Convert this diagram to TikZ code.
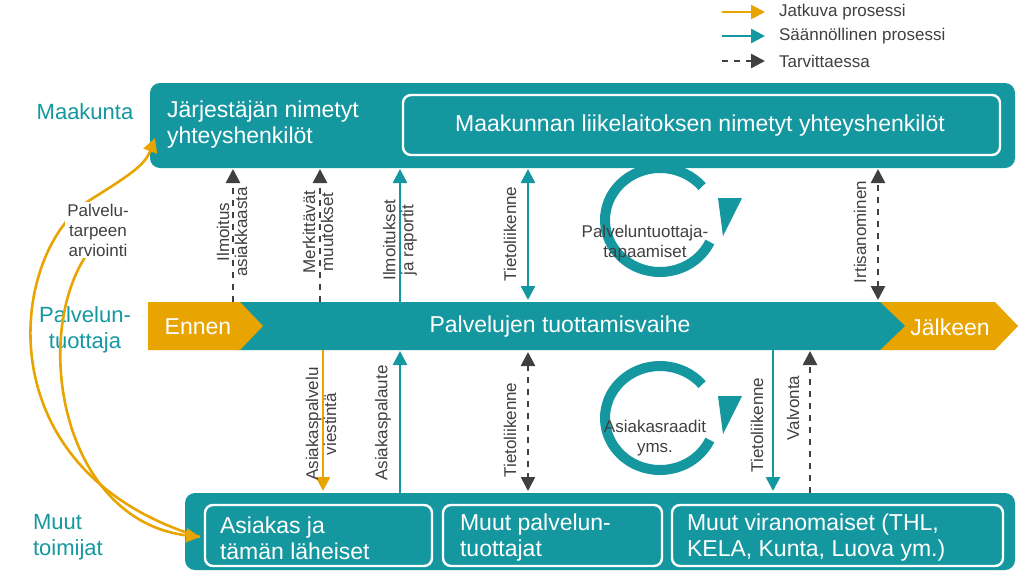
\documentclass[tikz,border=0pt]{standalone}
\usepackage{fontspec}
\setmainfont{Liberation Sans}
\usetikzlibrary{arrows.meta}
\definecolor{teal1}{HTML}{1597A0}
\definecolor{orng}{HTML}{E8A400}
\definecolor{dgray}{HTML}{404040}
\begin{document}
\begin{tikzpicture}[x=0.5pt,y=-0.5pt,
  tb/.style={fill=teal1,rounded corners=5pt},
  inb/.style={draw=white,line width=1.2pt,rounded corners=4pt},
  wt/.style={text=white,font=\fontsize{11.5}{13}\selectfont},
  lbl/.style={rotate=90,align=center,font=\fontsize{8.5}{9}\selectfont,text=dgray,inner sep=1pt},
  side/.style={text=teal1,font=\fontsize{11}{13}\selectfont,align=left},
  tarr/.style={teal1,line width=1.3pt,-{Triangle[length=7pt,width=7pt]}},
  tdbl/.style={teal1,line width=1.3pt,{Triangle[length=7pt,width=7pt]}-{Triangle[length=7pt,width=7pt]}},
  darr/.style={dgray,line width=1.3pt,dashed,-{Triangle[length=7pt,width=7pt]}},
  ddbl/.style={dgray,line width=1.3pt,dashed,{Triangle[length=7pt,width=7pt]}-{Triangle[length=7pt,width=7pt]}},
  oarr/.style={orng,line width=1.3pt,-{Triangle[length=7pt,width=7pt]}},
  circ/.style={teal1,line width=5pt}]
\useasboundingbox (0,0) rectangle (1024,579);
% legend
\coordinate (l1a) at (722,12); \coordinate (l1b) at (765,12);
\coordinate (l2a) at (722,36); \coordinate (l2b) at (765,36);
\coordinate (l3a) at (722,61); \coordinate (l3b) at (765,61);
\draw[oarr] (l1a) -- (l1b); \draw[tarr] (l2a) -- (l2b); \draw[darr] (l3a) -- (l3b);
\node[anchor=west,font=\fontsize{8.5}{10}\selectfont,text=dgray] (lg1) at (772,12) {Jatkuva prosessi};
\node[anchor=west,font=\fontsize{8.5}{10}\selectfont,text=dgray] (lg2) at (772,36) {Säännöllinen prosessi};
\node[anchor=west,font=\fontsize{8.5}{10}\selectfont,text=dgray] (lg3) at (772,61) {Tarvittaessa};
% side labels
\node[side] (mk) at (85,112) {Maakunta};
\node[side,align=center] (pt) at (85,330) {Palvelun-\\tuottaja};
\node[side,anchor=west] (mt) at (26,537) {Muut\\toimijat};
% top box
\fill[tb] (150,83) rectangle (1015,168);
\draw[inb] (403,95) rectangle (1000,155);
\node[wt,anchor=west,align=left] (jar) at (160,125) {Järjestäjän nimetyt\\yhteyshenkilöt};
\node[wt] (mll) at (700,126) {Maakunnan liikelaitoksen nimetyt yhteyshenkilöt};
% bottom box
\fill[tb] (185,493) rectangle (1015,570);
\draw[inb] (205,505) rectangle (432,566);
\draw[inb] (443,505) rectangle (662,566);
\draw[inb] (672,505) rectangle (1003,566);
\node[wt,anchor=west,align=left] (as) at (213,538) {Asiakas ja\\tämän läheiset};
\node[wt,anchor=west,align=left] (mp) at (453,538) {Muut palvelun-\\tuottajat};
\node[wt,anchor=west,align=left] (mv) at (680,538) {Muut viranomaiset (THL,\\KELA, Kunta, Luova ym.)};
% band
\fill[orng] (880,302) -- (995,302) -- (1018,326) -- (995,350) -- (880,350) -- cycle;
\fill[teal1] (235,302) -- (880,302) -- (905,326) -- (880,350) -- (235,350) -- cycle;
\fill[orng] (148,302) -- (240,302) -- (263,326) -- (240,350) -- (148,350) -- cycle;
\node[wt] (en) at (198,327) {Ennen};
\node[wt] (pv) at (560,327) {Palvelujen tuottamisvaihe};
\node[wt] (jk) at (950,327) {Jälkeen};
% top arrows
\coordinate (a1s) at (233,302); \coordinate (a1e) at (233,169);
\coordinate (a2s) at (320,302); \coordinate (a2e) at (320,169);
\coordinate (a3s) at (400,302); \coordinate (a3e) at (400,169);
\coordinate (a4s) at (528,300); \coordinate (a4e) at (528,169);
\coordinate (a5s) at (878,300); \coordinate (a5e) at (878,169);
\draw[darr] (a1s) -- (a1e); \draw[darr] (a2s) -- (a2e);
\draw[tarr] (a3s) -- (a3e); \draw[tdbl] (a4s) -- (a4e); \draw[ddbl] (a5s) -- (a5e);
\node[lbl] (t1) at (232,232) {Ilmoitus\\asiakkaasta};
\node[lbl] (t2) at (318,232) {Merkittävät\\muutokset};
\node[lbl] (t3) at (400,240) {Ilmoitukset\\ja raportit};
\node[lbl] (t4) at (510,234) {Tietoliikenne};
\node[lbl] (t5) at (860,232) {Irtisanominen};
% bottom arrows
\coordinate (b1s) at (323,350); \coordinate (b1e) at (323,491);
\coordinate (b2s) at (400,493); \coordinate (b2e) at (400,351);
\coordinate (b3s) at (528,352); \coordinate (b3e) at (528,491);
\coordinate (b4s) at (773,350); \coordinate (b4e) at (773,491);
\coordinate (b5s) at (810,493); \coordinate (b5e) at (810,351);
\draw[oarr] (b1s) -- (b1e); \draw[tarr] (b2s) -- (b2e);
\draw[ddbl] (b3s) -- (b3e); \draw[tarr] (b4s) -- (b4e); \draw[darr] (b5s) -- (b5e);
\node[lbl] (u1) at (321,424) {Asiakaspalvelu\\viestintä};
\node[lbl] (u2) at (383,423) {Asiakaspalaute};
\node[lbl] (u3) at (510,430) {Tietoliikenne};
\node[lbl] (u4) at (757,425) {Tietoliikenne};
\node[lbl] (u5) at (793,408) {Valvonta};
% circular arrows
\draw[circ] (660,220) ++(-40:55 and 52) arc[start angle=-40,end angle=-335,x radius=55,y radius=52];
\fill[teal1] (718,198) -- (742,198) -- (723,236) -- cycle;
\node[font=\fontsize{8.5}{10}\selectfont,text=dgray,align=center] (c1) at (645,243) {Palveluntuottaja-\\tapaamiset};
\draw[circ] (660,418) ++(-40:55 and 52) arc[start angle=-40,end angle=-335,x radius=55,y radius=52];
\fill[teal1] (718,396) -- (742,396) -- (723,434) -- cycle;
\node[font=\fontsize{8.5}{10}\selectfont,text=dgray,align=center] (c2) at (655,438) {Asiakasraadit\\yms.};
% orange curve
\coordinate (oc1) at (200,537); \coordinate (oc2) at (155,138);
\draw[oarr] (200,537) .. controls (-20,470) and (10,250) .. (90,200) .. controls (130,175) and (145,165) .. (oc2);
\draw[oarr] (90,250) .. controls (30,330) and (60,520) .. (oc1);
\node[font=\fontsize{8.5}{10}\selectfont,text=dgray,align=center,fill=white,inner sep=1pt] (pa) at (98,230) {Palvelu-\\tarpeen\\arviointi};
\end{tikzpicture}
\end{document}
